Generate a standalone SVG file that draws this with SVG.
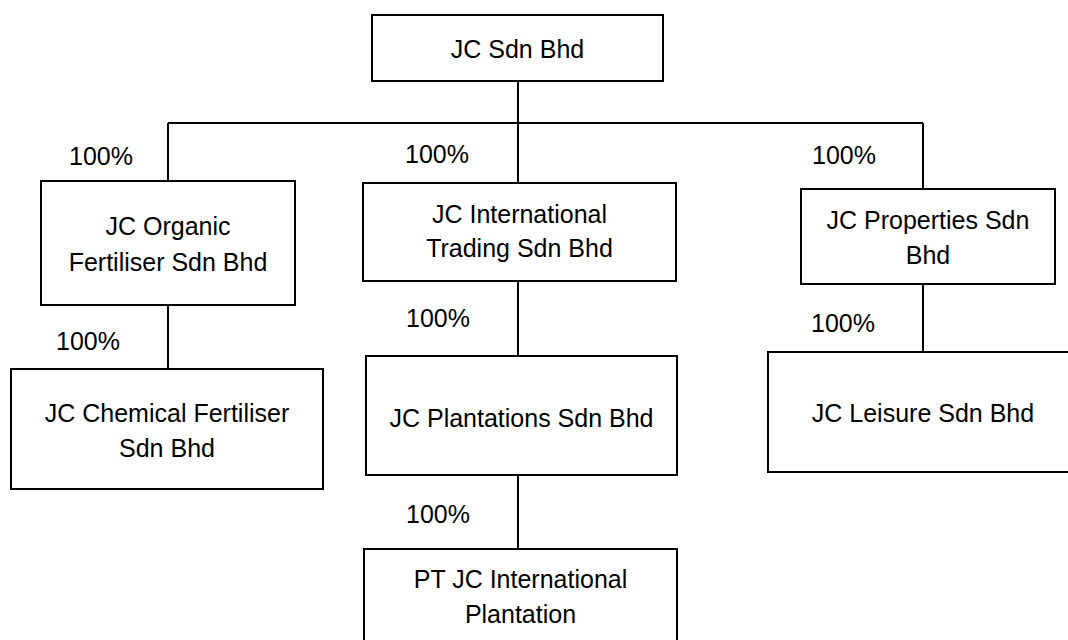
<svg xmlns="http://www.w3.org/2000/svg" width="1068" height="640" viewBox="0 0 1068 640">
<style>
.box{fill:#fff;stroke:#000;stroke-width:2}
.t{font-family:"Liberation Sans",Arial,sans-serif;font-size:25px;fill:#000;text-anchor:middle}
.p{font-family:"Liberation Sans",Arial,sans-serif;font-size:25px;fill:#000}
.c{stroke:#000;stroke-width:2;fill:none}
</style>
<rect width="1068" height="640" fill="#fff"/>
<g id="connectors">
<path class="c" d="M518 81V183M168 123H923M168 123V181M923 123V189M168 305V369M518 281V356M518 475V549M923 284V352"/>
</g>
<g id="labels">
<text class="p" x="69" y="165">100%</text>
<text class="p" x="405" y="163">100%</text>
<text class="p" x="812" y="164">100%</text>
<text class="p" x="56" y="350">100%</text>
<text class="p" x="406" y="327">100%</text>
<text class="p" x="811" y="332">100%</text>
<text class="p" x="406" y="523">100%</text>
</g>
<g id="jc-sdn-bhd"><rect class="box" x="372" y="15" width="291" height="66"/><text class="t" x="517.5" y="58">JC Sdn Bhd</text></g>
<g id="jc-organic"><rect class="box" x="41" y="181" width="254" height="124"/><text class="t" x="168" y="235">JC Organic</text><text class="t" x="168" y="271">Fertiliser Sdn Bhd</text></g>
<g id="jc-intl-trading"><rect class="box" x="363" y="183" width="313" height="98"/><text class="t" x="519.5" y="223">JC International</text><text class="t" x="519.5" y="257">Trading Sdn Bhd</text></g>
<g id="jc-properties"><rect class="box" x="801" y="189" width="254" height="95"/><text class="t" x="928" y="229">JC Properties Sdn</text><text class="t" x="928" y="264">Bhd</text></g>
<g id="jc-chemical"><rect class="box" x="11" y="369" width="312" height="120"/><text class="t" x="167" y="422">JC Chemical Fertiliser</text><text class="t" x="167" y="457">Sdn Bhd</text></g>
<g id="jc-plantations"><rect class="box" x="366" y="356" width="311" height="119"/><text class="t" x="521.5" y="427">JC Plantations Sdn Bhd</text></g>
<g id="jc-leisure"><rect class="box" x="768" y="352" width="312" height="120"/><text class="t" x="923" y="422">JC Leisure Sdn Bhd</text></g>
<g id="pt-jc-intl-plantation"><rect class="box" x="364" y="549" width="313" height="110"/><text class="t" x="520.5" y="588">PT JC International</text><text class="t" x="520.5" y="623">Plantation</text></g>
</svg>
